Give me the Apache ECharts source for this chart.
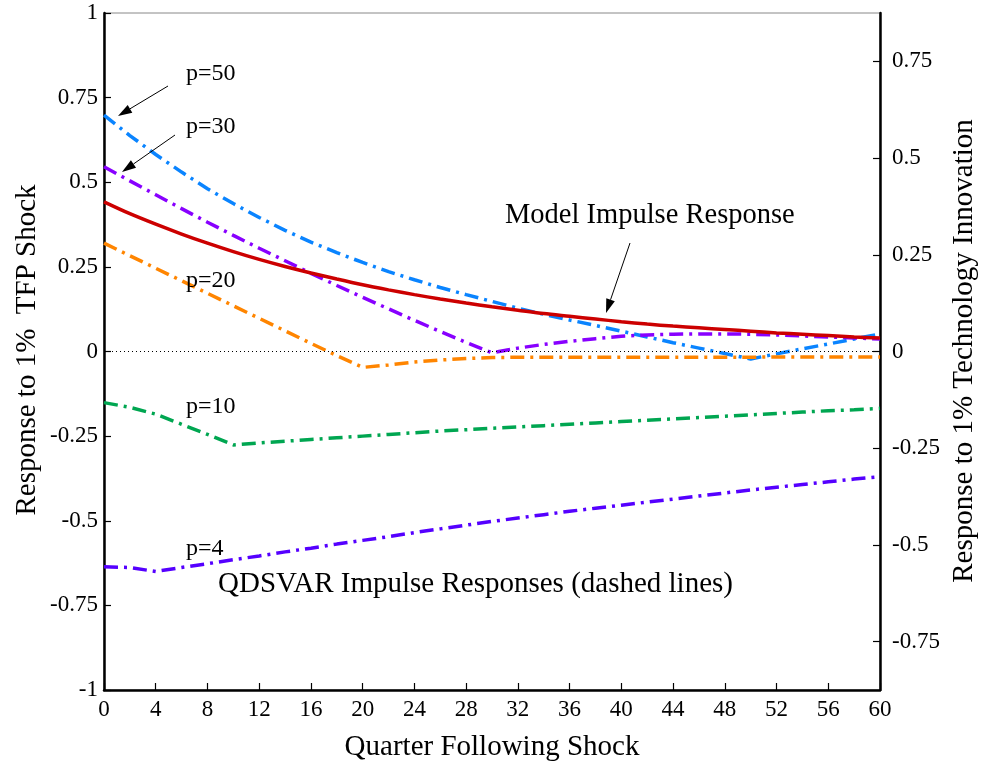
<!DOCTYPE html>
<html>
<head>
<meta charset="utf-8">
<script src="https://cdn.jsdelivr.net/npm/echarts@6/dist/echarts.min.js"></script>
<style>
  html, body { margin: 0; padding: 0; background: #fff; }
  #chart { width: 983px; height: 769px; }
</style>
</head>
<body>
<div id="chart"></div>
<script>
// quarters after the shock, every 2
const quarters = [0,2,4,6,8,10,12,14,16,18,20,22,24,26,28,30,32,34,36,38,40,42,44,46,48,50,52,54,56,58,60];

// model impulse response (solid red)
const model = [0.442,0.407,0.376,0.347,0.320,0.295,0.272,0.251,0.232,0.214,0.197,0.182,0.168,0.155,0.143,0.132,
  0.122,0.112,0.104,0.096,0.088,0.081,0.075,0.070,0.065,0.060,0.055,0.051,0.047,0.043,0.040];

// QDSVAR impulse responses
const p50 = [0.698,0.638,0.582,0.530,0.481,0.437,0.396,0.358,0.323,0.292,0.263,0.236,0.212,0.189,0.168,0.148,
  0.128,0.110,0.093,0.077,0.060,0.043,0.026,0.010,-0.006,-0.022,-0.007,0.008,0.022,0.037,0.052];
const p30 = [0.546,0.504,0.463,0.422,0.382,0.343,0.305,0.268,0.231,0.195,0.160,0.126,0.092,0.059,0.027,-0.004,
  0.010,0.021,0.030,0.038,0.045,0.049,0.051,0.052,0.052,0.051,0.049,0.046,0.043,0.040,0.037];
const p20 = [0.320,0.283,0.246,0.209,0.172,0.135,0.098,0.061,0.024,-0.012,-0.047,-0.040,-0.031,-0.025,-0.021,-0.018,
  -0.017,-0.017,-0.017,-0.017,-0.017,-0.017,-0.017,-0.017,-0.017,-0.017,-0.016,-0.016,-0.016,-0.016,-0.016];
const p10 = [-0.151,-0.165,-0.185,-0.215,-0.245,-0.276,-0.270,-0.265,-0.260,-0.255,-0.250,-0.245,-0.240,-0.235,-0.231,-0.227,
  -0.223,-0.219,-0.215,-0.211,-0.207,-0.203,-0.199,-0.195,-0.191,-0.187,-0.183,-0.179,-0.175,-0.172,-0.168];
const p4 = [-0.636,-0.638,-0.650,-0.638,-0.627,-0.615,-0.604,-0.592,-0.581,-0.569,-0.558,-0.547,-0.535,-0.524,-0.513,-0.502,
  -0.492,-0.482,-0.472,-0.463,-0.454,-0.445,-0.436,-0.427,-0.418,-0.409,-0.401,-0.393,-0.385,-0.377,-0.370];

// right axis ticks
const rightTicks = [-0.75,-0.5,-0.25,0,0.25,0.5,0.75];

const FONT = 'Liberation Serif';
const dashDot = [14, 6, 3, 6];

function pairs(ys) {
  return quarters.map((q, i) => [q, ys[i]]);
}

function dashed(name, ys, color) {
  return {
    name: name,
    type: 'line',
    data: pairs(ys),
    symbol: 'none',
    lineStyle: { color: color, width: 3.5, type: dashDot, cap: 'butt' },
    z: 3
  };
}

// arrow: thin line with filled head at (x2,y2)
function arrow(x1, y1, x2, y2) {
  const a = Math.atan2(y2 - y1, x2 - x1);
  const L = 14, W = 4.5;
  const bx = x2 - L * Math.cos(a), by = y2 - L * Math.sin(a);
  const px = -Math.sin(a) * W, py = Math.cos(a) * W;
  return [
    { type: 'line', z: 10, shape: { x1: x1, y1: y1, x2: bx, y2: by }, style: { stroke: '#000', lineWidth: 1 } },
    { type: 'polygon', z: 10, shape: { points: [[x2, y2], [bx + px, by + py], [bx - px, by - py]] }, style: { fill: '#000' } }
  ];
}

function label(text, x, y, size, rot, center) {
  const al = (rot || center) ? 'center' : 'left';
  return {
    type: 'text', z: 10, x: x, y: y, rotation: rot || 0,
    style: {
      text: text, fill: '#000', font: size + 'px "' + FONT + '"',
      textAlign: al, textVerticalAlign: 'middle',
      align: al, verticalAlign: 'middle'
    }
  };
}

const chart = echarts.init(document.getElementById('chart'));

const axisFont = { fontFamily: FONT, fontSize: 23, color: '#000' };

const option = {
  animation: false,
  backgroundColor: '#fff',
  grid: { left: 104, right: 103, top: 13, bottom: 79, show: true, borderColor: '#888', borderWidth: 1 },
  xAxis: {
    type: 'value', min: 0, max: 60, interval: 4,
    axisLine: { onZero: false, lineStyle: { color: '#000', width: 2.5 } },
    axisTick: { inside: true, length: 7, lineStyle: { color: '#000', width: 1.2 } },
    axisLabel: Object.assign({ margin: 8 }, axisFont),
    splitLine: { show: false }
  },
  yAxis: [
    {
      type: 'value', min: -1, max: 1, interval: 0.25, position: 'left',
      axisLine: { show: true, onZero: false, lineStyle: { color: '#000', width: 2.5 } },
      axisTick: { show: true, inside: true, length: 7, lineStyle: { color: '#000', width: 1.2 } },
      axisLabel: Object.assign({ margin: 6, formatter: v => String(v) }, axisFont),
      splitLine: { show: false }
    },
    {
      type: 'value', min: -0.875, max: 0.875, position: 'right',
      axisLine: { show: true, onZero: false, lineStyle: { color: '#000', width: 2.5 } },
      axisTick: { show: true, inside: true, length: 7, customValues: rightTicks, lineStyle: { color: '#000', width: 1.2 } },
      axisLabel: Object.assign({ margin: 12, customValues: rightTicks, formatter: v => String(v) }, axisFont),
      splitLine: { show: false }
    }
  ],
  series: [
    {
      name: 'Model',
      type: 'line',
      data: pairs(model),
      symbol: 'none',
      smooth: 0.3,
      lineStyle: { color: '#cc0000', width: 3.5 },
      z: 4,
      markLine: {
        silent: true, symbol: 'none', label: { show: false },
        lineStyle: { color: '#000', width: 1, type: [1, 3] },
        data: [{ yAxis: 0 }]
      }
    },
    dashed('p=50', p50, '#0a84ff'),
    dashed('p=30', p30, '#8800ff'),
    dashed('p=20', p20, '#ff8500'),
    dashed('p=10', p10, '#00a651'),
    dashed('p=4', p4, '#5500ff')
  ],
  graphic: [
    label('Response to 1%  TFP Shock', 27, 350, 29, Math.PI / 2),
    label('Response to 1% Technology Innovation', 964, 351, 29, Math.PI / 2),
    label('Quarter Following Shock', 492, 747, 29, 0, true),
    label('p=50', 186, 74, 24),
    label('p=30', 186, 127, 24),
    label('p=20', 186, 281, 24),
    label('p=10', 186, 407, 24),
    label('p=4', 186, 549, 24),
    label('QDSVAR Impulse Responses (dashed lines)', 218, 584, 29),
    label('Model Impulse Response', 505, 216, 28.5)
  ].concat(arrow(168, 86, 118, 116), arrow(175, 135, 122, 172), arrow(630, 243, 606, 313))
};

chart.setOption(option);
</script>
</body>
</html>
